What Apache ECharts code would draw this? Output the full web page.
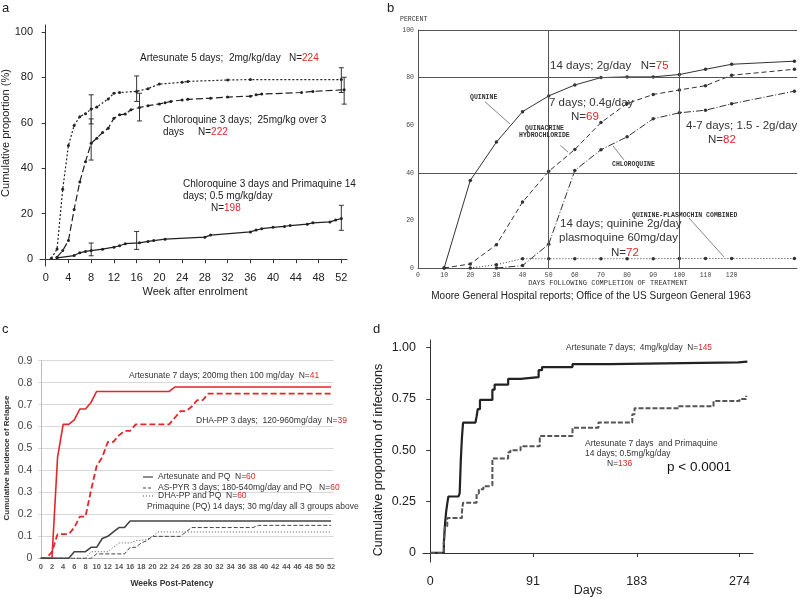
<!DOCTYPE html>
<html><head><meta charset="utf-8">
<script src="https://cdn.jsdelivr.net/npm/echarts@6/dist/echarts.min.js"></script>
<style>html,body{margin:0;padding:0;background:#fff}#c{width:800px;height:598px}</style>
</head><body><div id="c"></div>
<script>
// ---------- Panel a ----------
const aWeekTicks = [0,4,8,12,16,20,24,28,32,36,40,44,48,52];
const aPctTicks = [0,20,40,60,80,100];
const aArtesunate = [[1,0.4],[2,4.5],[3,30.8],[4,50],[5,58.8],[6,62.7],[7,64],[8,66],[9,66.9],[11,70.5],[12,73],[13,73.3],[16,73.8],[18,75],[20,77],[24,77.8],[25,78.2],[32,78.8],[36,79],[52,79]];
const aChloroquine = [[2,0.9],[3,3.8],[4,8.2],[5,21.8],[6,34],[7,42.9],[8,51],[9,53.2],[10,55.7],[11,57.6],[12,62],[13,63.5],[14,63.8],[15,65.7],[16.5,66.7],[18,67.5],[20,68.3],[21,68.8],[22,69.4],[24,70],[25,70.3],[29,70.8],[32,71.3],[36,71.7],[37,72.3],[38,72.6],[45,73.3],[47,73.8],[52.5,74.5]];
const aPrimaquine = [[2,0.6],[5,1.6],[6,2.8],[7,3.4],[8,3.8],[10,4.4],[12,5.3],[13,5.9],[14,6.8],[16.5,7.2],[18,7.8],[19,8.2],[21,8.8],[28,9.7],[29,10.6],[36,12],[37,12.8],[38,13.4],[40,14],[42,14.4],[43,14.8],[46,15.4],[47,16],[50,16.4],[51,17.2],[52,17.9]];
const aArtesunateErr = [[8,59.5,72.3],[16,69.4,80.6],[52,73.3,84.2]];
const aChloroquineErr = [[8,43.6,61.7],[16.5,60.8,73],[52.5,68.2,80]];
const aPrimaquineErr = [[8,1.5,7.1],[16,4.3,12.2],[52,12.7,23.7]];

// ---------- Panel b ----------
const bDayTicks = [0,10,20,30,40,50,60,70,80,90,100,110,120];
const bPctTicks = [0,20,40,60,80,100];
const bQuinine = [[10,0],[20,36.8],[30,52.9],[40,65.7],[50,72.3],[60,76.9],[70,80],[80,80.3],[90,80.3],[100,81.3],[110,83.5],[120,85.6],[144,86.9]];
const bQuinacrine = [[10,0],[20,1.7],[30,9.8],[40,27.7],[50,40.6],[60,49.8],[70,61.1],[80,69.1],[90,72.9],[100,74.8],[110,76.6],[120,81],[144,83.5]];
const bChloroquine = [[30,0],[40,1],[50,10],[60,41],[70,49.7],[80,55.1],[90,62.7],[100,65.2],[110,66.3],[120,69],[144,74.3]];
const bPlasmochin = [[20,0],[30,1.4],[40,3.9],[50,3.9],[60,3.9],[70,3.9],[80,3.9],[90,3.9],[100,4],[110,4],[120,4],[144,4]];
const bGridDays = [50,100];
const bGridPcts = [40,80,100];

// ---------- Panel c ----------
const cWeekTicks = [0,2,4,6,8,10,12,14,16,18,20,22,24,26,28,30,32,34,36,38,40,42,44,46,48,50,52];
const cArtesunate = [[0,0],[2,0],[3,0.46],[4,0.61],[5,0.61],[6,0.63],[7,0.68],[8,0.68],[9,0.71],[10,0.76],[23,0.76],[24,0.78],[52,0.78]];
const cDhaPP = [[0,0],[1,0],[2,0.03],[3,0.11],[5,0.11],[6,0.14],[7,0.19],[8,0.19],[9,0.31],[10,0.42],[11,0.46],[12,0.53],[13,0.53],[14,0.56],[15,0.58],[16,0.58],[17,0.61],[23,0.61],[24,0.64],[25,0.67],[26,0.67],[27,0.69],[28,0.72],[29,0.72],[30,0.75],[52,0.75]];
const cArtesunatePQ = [[0,0],[5,0],[6,0.03],[8,0.03],[9,0.05],[10,0.05],[11,0.09],[12,0.1],[13,0.12],[14,0.14],[15,0.14],[16,0.17],[52,0.17]];
const cAsPyrPQ = [[0,0],[9,0],[10,0.02],[15,0.02],[16,0.05],[17,0.05],[18,0.07],[19,0.08],[20,0.1],[25,0.1],[26,0.12],[27,0.14],[38,0.14],[39,0.15],[52,0.15]];
const cDhaPQ = [[0,0],[8,0],[9,0.03],[12,0.03],[13,0.05],[14,0.07],[16,0.07],[17,0.08],[19,0.085],[20,0.1],[21,0.12],[52,0.12]];

// ---------- Panel d ----------
const dDayTicks = [0,91,183,274];
const dPropTicks = [0,0.25,0.5,0.75,1];
const dArtesunate = [[0,0],[12,0.05],[13,0.14],[14,0.2],[15,0.24],[16,0.275],[25,0.28],[26,0.29],[27,0.45],[28,0.56],[29,0.635],[40,0.64],[41,0.665],[42,0.7],[44,0.745],[55,0.795],[57,0.82],[69,0.848],[80,0.856],[96,0.89],[99,0.905],[126,0.92],[159,0.928],[273,0.932],[281,0.932]];
const dArtPrimaquine = [[0,0],[12,0.06],[13,0.13],[15,0.17],[28,0.2],[29,0.245],[41,0.29],[43,0.31],[47,0.325],[53,0.33],[55,0.46],[69,0.49],[71,0.5],[80,0.52],[97,0.57],[126,0.61],[149,0.635],[179,0.675],[181,0.705],[220,0.715],[251,0.74],[274,0.75],[280,0.765]];

const SANS = 'Liberation Sans, Arial, Helvetica, sans-serif';
const MONO = 'Liberation Mono, DejaVu Sans Mono, monospace';
const RED = '#e3262b';

function T(x, y, text, o) {
  o = o || {};
  const size = o.size || 10, fam = o.family || SANS, weight = o.bold ? 'bold' : 'normal';
  const st = { text, fill: o.color || '#222', fontSize: size, fontFamily: fam, fontWeight: weight,
    textAlign: o.align || 'left', textVerticalAlign: o.va || 'middle' };
  if (o.red) {
    st.rich = {
      k: { fill: o.color || '#222', fontSize: size, fontFamily: fam, fontWeight: weight },
      r: { fill: RED, fontSize: size, fontFamily: fam, fontWeight: weight }
    };
  }
  return { type: 'text', x, y, rotation: o.rot || 0, scaleX: o.sx || 1, style: st, z: 100, silent: true };
}
function L(x1, y1, x2, y2, o) {
  o = o || {};
  return { type: 'line', shape: { x1, y1, x2, y2 }, style: { stroke: o.color || '#333', lineWidth: o.w || 1, lineDash: o.dash || null }, z: 100, silent: true };
}

function errBars(data, xi, yi) {
  return {
    type: 'custom', xAxisIndex: xi, yAxisIndex: yi, data, encode: { x: 0, y: [1, 2] }, silent: true,
    renderItem: function (params, api) {
      const x = api.value(0), lo = api.value(1), hi = api.value(2);
      const p1 = api.coord([x, lo]), p2 = api.coord([x, hi]);
      const w = 2.5, s = { stroke: '#333', lineWidth: 1 };
      return { type: 'group', children: [
        { type: 'line', shape: { x1: p1[0], y1: p1[1], x2: p2[0], y2: p2[1] }, style: s },
        { type: 'line', shape: { x1: p1[0] - w, y1: p1[1], x2: p1[0] + w, y2: p1[1] }, style: s },
        { type: 'line', shape: { x1: p2[0] - w, y1: p2[1], x2: p2[0] + w, y2: p2[1] }, style: s }
      ] };
    }
  };
}

function line(data, xi, yi, o) {
  return {
    type: 'line', xAxisIndex: xi, yAxisIndex: yi, data,
    symbol: o.symbol || 'none', symbolSize: o.symbolSize || 3, showSymbol: !!o.symbol,
    step: o.step || false,
    itemStyle: { color: o.color }, lineStyle: { color: o.color, width: o.width || 1, type: o.type || 'solid' },
    silent: true, z: o.z || 2, markLine: o.markLine
  };
}

const option = {
  animation: false,
  backgroundColor: '#fff',
  grid: [
    { left: 40, top: 25, width: 307, height: 241, containLabel: false },
    { left: 418, top: 30, width: 379, height: 238, containLabel: false },
    { left: 38.3, top: 360.7, width: 295, height: 197.6, containLabel: false },
    { left: 423, top: 340, width: 330, height: 222, containLabel: false }
  ],
  xAxis: [
    { gridIndex: 0, type: 'value', min: -1, max: 53,
      axisLine: { show: true, lineStyle: { color: '#333' } },
      axisTick: { show: true, length: 4, customValues: aWeekTicks, lineStyle: { color: '#333' } },
      axisLabel: { customValues: aWeekTicks, fontSize: 11, color: '#222', fontFamily: SANS, margin: 6 },
      splitLine: { show: false } },
    { gridIndex: 1, type: 'value', min: 0, max: 145,
      axisLine: { show: true, lineStyle: { color: '#555' } },
      axisTick: { show: false },
      axisLabel: { customValues: bDayTicks, fontSize: 6.5, color: '#444', fontFamily: MONO, margin: 4 },
      splitLine: { show: false } },
    { gridIndex: 2, type: 'value', min: -0.45, max: 52.4,
      axisLine: { show: true, lineStyle: { color: '#bbb' } },
      axisTick: { show: false },
      axisLabel: { customValues: cWeekTicks, fontSize: 7.5, fontWeight: 'bold', color: '#555', fontFamily: SANS, margin: 5 },
      splitLine: { show: false } },
    { gridIndex: 3, type: 'value', min: -6.5, max: 286,
      axisLine: { show: true, lineStyle: { color: '#333' } },
      axisTick: { show: true, length: 4, customValues: dDayTicks, lineStyle: { color: '#333' } },
      axisLabel: { customValues: dDayTicks, fontSize: 12.5, color: '#222', fontFamily: SANS, margin: 13 },
      splitLine: { show: false } }
  ],
  yAxis: [
    { gridIndex: 0, type: 'value', min: -3, max: 103,
      axisLine: { show: true, lineStyle: { color: '#333' } },
      axisTick: { show: true, length: 4, customValues: aPctTicks, lineStyle: { color: '#333' } },
      axisLabel: { customValues: aPctTicks, fontSize: 11, color: '#222', fontFamily: SANS, margin: 7 },
      splitLine: { show: false } },
    { gridIndex: 1, type: 'value', min: 0, max: 100,
      axisLine: { show: true, lineStyle: { color: '#555' } },
      axisTick: { show: false },
      axisLabel: { customValues: bPctTicks, fontSize: 6.5, color: '#444', fontFamily: MONO, margin: 4 },
      splitLine: { show: false } },
    { gridIndex: 2, type: 'value', min: 0, max: 0.9, interval: 0.1,
      axisLine: { show: true, lineStyle: { color: '#bbb' } },
      axisTick: { show: false },
      axisLabel: { fontSize: 10.5, color: '#444', fontFamily: SANS, margin: 6, formatter: v => v === 0 ? '0' : v.toFixed(1) },
      splitLine: { show: true, lineStyle: { color: '#d9d9d9', width: 1 } } },
    { gridIndex: 3, type: 'value', min: -0.044, max: 1.037,
      axisLine: { show: true, lineStyle: { color: '#333' } },
      axisTick: { show: true, length: 4, customValues: dPropTicks, lineStyle: { color: '#333' } },
      axisLabel: { customValues: dPropTicks, fontSize: 12.5, color: '#222', fontFamily: SANS, margin: 7, formatter: v => v === 0 ? '0' : v.toFixed(2) },
      splitLine: { show: false } }
  ],
  series: [
    // a
    line(aArtesunate, 0, 0, { color: '#222', type: [2, 2], width: 1.2, symbol: 'circle', symbolSize: 3 }),
    line(aChloroquine, 0, 0, { color: '#222', type: [7, 3], width: 1.2, symbol: 'circle', symbolSize: 3 }),
    line(aPrimaquine, 0, 0, { color: '#222', width: 1.2, symbol: 'circle', symbolSize: 3 }),
    errBars(aArtesunateErr, 0, 0), errBars(aChloroquineErr, 0, 0), errBars(aPrimaquineErr, 0, 0),
    // b
    line(bQuinine, 1, 1, { color: '#333', width: 1, symbol: 'circle', symbolSize: 3.5, markLine: {
      silent: true, symbol: 'none', label: { show: false }, animation: false,
      lineStyle: { color: '#555', type: 'solid', width: 1 },
      data: bGridDays.map(d => ({ xAxis: d })).concat(bGridPcts.map(p => ({ yAxis: p })))
    } }),
    line(bQuinacrine, 1, 1, { color: '#333', width: 1, type: [5, 3], symbol: 'circle', symbolSize: 3.5 }),
    line(bChloroquine, 1, 1, { color: '#333', width: 1, type: [7, 2, 1, 2], symbol: 'circle', symbolSize: 3.5 }),
    line(bPlasmochin, 1, 1, { color: '#333', width: 1, type: [1, 2], symbol: 'circle', symbolSize: 3.5, markLine: {
      silent: true, symbol: 'none', label: { show: false }, animation: false,
      lineStyle: { color: '#666', type: 'solid', width: 0.8 },
      data: [
        [{ coord: [25.6, 69.9] }, { coord: [35.2, 60.5] }],
        [{ coord: [54.5, 51.5] }, { coord: [57.4, 48.7] }],
        [{ coord: [74.6, 51.3] }, { coord: [78.8, 45.4] }],
        [{ coord: [103.7, 21] }, { coord: [117.1, 4.6] }]
      ]
    } }),
    // c
    line(cArtesunate, 2, 2, { color: RED, width: 1.6 }),
    line(cDhaPP, 2, 2, { color: RED, width: 1.8, type: [6, 3] }),
    line(cArtesunatePQ, 2, 2, { color: '#444', width: 1.6 }),
    line(cAsPyrPQ, 2, 2, { color: '#444', width: 1, type: [4, 2] }),
    line(cDhaPQ, 2, 2, { color: '#555', width: 1, type: [1, 2] }),
    // d
    line(dArtesunate, 3, 3, { color: '#222', width: 2.2, step: 'end' }),
    line(dArtPrimaquine, 3, 3, { color: '#555', width: 2, type: [5, 2], step: 'end' })
  ],
  graphic: { elements: [
    // panel labels
    T(2, 8, 'a', { size: 13 }), T(387, 8, 'b', { size: 13 }), T(2, 329, 'c', { size: 13 }), T(373, 329, 'd', { size: 13 }),
    // a texts
    T(140, 58, '{k|Artesunate 5 days;  2mg/kg/day   N=}{r|224}', { size: 10, red: true }),
    T(163, 120, 'Chloroquine 3 days;  25mg/kg over 3', { size: 10 }),
    T(163, 132, '{k|days     N=}{r|222}', { size: 10, red: true }),
    T(183, 184, 'Chloroquine 3 days and Primaquine 14', { size: 10 }),
    T(183, 196, 'days; 0.5 mg/kg/day', { size: 10 }),
    T(211, 208, '{k|N=}{r|198}', { size: 10, red: true }),
    T(195, 292, 'Week after enrolment', { size: 11, align: 'center' }),
    T(6, 133, 'Cumulative proportion (%)', { size: 11, align: 'center', rot: Math.PI / 2 }),
    // b texts
    T(400, 19, 'PERCENT', { size: 6.5, family: MONO, color: '#333' }),
    T(608, 283, 'DAYS FOLLOWING COMPLETION OF TREATMENT', { size: 7, family: MONO, color: '#333', align: 'center' }),
    T(591, 296, 'Moore General Hospital reports; Office of the US Surgeon General 1963', { size: 10, align: 'center' }),
    T(470, 97, 'QUININE', { size: 6.5, family: MONO, color: '#333', bold: true }),
    T(525, 128, 'QUINACRINE', { size: 6.5, family: MONO, color: '#333', bold: true }),
    T(519, 135, 'HYDROCHLORIDE', { size: 6.5, family: MONO, color: '#333', bold: true }),
    T(612, 164, 'CHLOROQUINE', { size: 6.5, family: MONO, color: '#333', bold: true }),
    T(632, 215, 'QUININE-PLASMOCHIN COMBINED', { size: 6.5, family: MONO, color: '#333', bold: true }),
    T(550, 66, '{k|14 days; 2g/day   N=}{r|75}', { size: 11.5, red: true, color: '#333' }),
    T(549, 103, '7 days; 0.4g/day', { size: 11.5, color: '#333' }),
    T(571, 117, '{k|N=}{r|69}', { size: 11.5, red: true, color: '#333' }),
    T(686, 126, '4-7 days; 1.5 - 2g/day', { size: 11.5, color: '#333' }),
    T(708, 140, '{k|N=}{r|82}', { size: 11.5, red: true, color: '#333' }),
    T(560, 224, '14 days; quinine 2g/day', { size: 11.5, color: '#333' }),
    T(559, 238, 'plasmoquine 60mg/day', { size: 11.5, color: '#333' }),
    T(611, 253, '{k|N=}{r|72}', { size: 11.5, red: true, color: '#333' }),
    // c texts
    T(129, 376, '{k|Artesunate 7 days; 200mg then 100 mg/day  N=}{r|41}', { size: 8.5, red: true, color: '#333' }),
    T(196, 421, '{k|DHA-PP 3 days;  120-960mg/day  N=}{r|39}', { size: 8.5, red: true, color: '#333' }),
    L(143, 477, 153, 477, { color: '#444', w: 1.2 }),
    L(143, 488, 153, 488, { color: '#444', w: 1, dash: [3, 2] }),
    L(143, 496, 153, 496, { color: '#555', w: 1, dash: [1, 2] }),
    T(158, 477, '{k|Artesunate and PQ  N=}{r|60}', { size: 8.5, red: true, color: '#333' }),
    T(158, 488, '{k|AS-PYR 3 days; 180-540mg/day and PQ   N=}{r|60}', { size: 8.5, red: true, color: '#333' }),
    T(158, 496, '{k|DHA-PP and PQ  N=}{r|60}', { size: 8.5, red: true, color: '#333' }),
    T(147, 507, 'Primaquine (PQ) 14 days; 30 mg/day all 3 groups above', { size: 8.5, color: '#333' }),
    T(172, 584, 'Weeks Post-Patency', { size: 8.5, bold: true, align: 'center', color: '#333' }),
    T(7, 458, 'Cumulative Incidence of Relapse', { size: 8, bold: true, align: 'center', color: '#333', rot: Math.PI / 2 }),
    // d texts
    T(566, 348, '{k|Artesunate 7 days;  4mg/kg/day  N=}{r|145}', { size: 8.3, red: true, color: '#333' }),
    T(585, 444, 'Artesunate 7 days  and Primaquine', { size: 8.5, color: '#333' }),
    T(585, 454, '14 days; 0.5mg/kg/day', { size: 8.5, color: '#333' }),
    T(607, 464, '{k|N=}{r|136}', { size: 8.5, red: true, color: '#333' }),
    T(667, 467, 'p < 0.0001', { size: 13.5, color: '#111' }),
    T(588, 591, 'Days', { size: 12.5, align: 'center' }),
    T(379, 460, 'Cumulative proportion of infections', { size: 12.5, align: 'center', rot: Math.PI / 2 })
  ] }
};
const chart = echarts.init(document.getElementById('c'), null, { renderer: 'canvas', width: 800, height: 598 });
chart.setOption(option);
</script>
</body></html>
